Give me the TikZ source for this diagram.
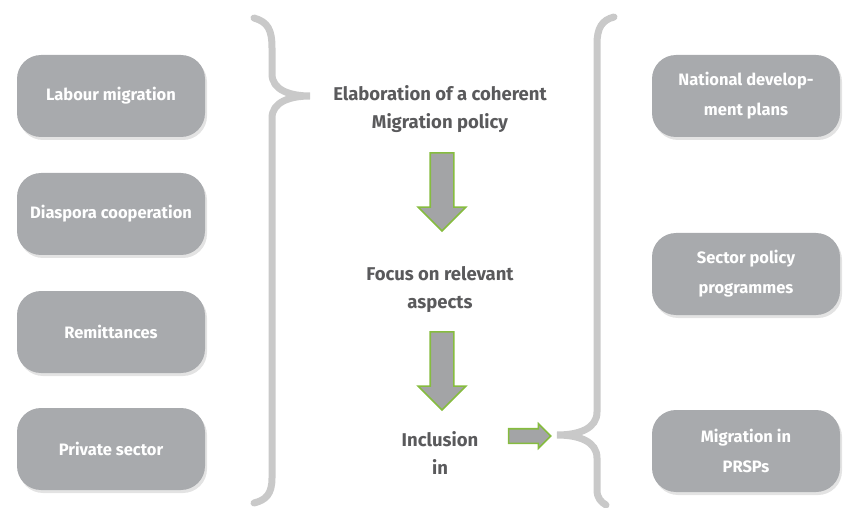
\documentclass[tikz,border=0pt]{standalone}
\usepackage{fontspec}
\setmainfont{Fira Sans}
\usepackage{xcolor}
\usetikzlibrary{shapes,shadows}
\definecolor{boxgray}{HTML}{A8AAAD}
\definecolor{bracegray}{HTML}{C9C9C9}
\definecolor{textgray}{HTML}{5A5A5C}
\definecolor{arrowgreen}{HTML}{86BC3F}
\definecolor{arrowgray}{HTML}{A3A4A6}

\begin{document}
\begin{tikzpicture}[x=1pt,y=-1pt,
  topic/.style={shape=rectangle,rounded corners=24pt,fill=boxgray,text=white,
    minimum width=188pt,minimum height=82pt,align=center,
    font=\fontsize{16.5}{30}\selectfont\bfseries,
    drop shadow={shadow xshift=2pt,shadow yshift=-3pt,opacity=0.22}},
  stage/.style={align=center,text=textgray,font=\fontsize{18.5}{28}\selectfont\bfseries},
  fatarrow/.style={shape=single arrow,fill=arrowgray,draw=arrowgreen,line width=1.6pt,
    inner sep=11pt,single arrow head extend=12pt,minimum height=78pt},
  brace/.style={draw=bracegray,line width=7pt,line cap=round}]
\useasboundingbox (0,0) rectangle (847,508);

\node (labour) at (111,96) [topic] {Labour migration};
\node (diaspora) at (111,214) [topic] {Diaspora cooperation};
\node (remit) at (111,332) [topic] {Remittances};
\node (private) at (111,449) [topic] {Private sector};

\node (national) at (746,96) [topic] {National develop-\\ment plans};
\node (sector) at (746,274) [topic] {Sector policy\\programmes};
\node (prsp) at (746,451) [topic] {Migration in\\PRSPs};

\node (elab) at (440,109) [stage] {Elaboration of a coherent\\Migration policy};
\node (focus) at (440,290) [stage] {Focus on relevant\\aspects};
\node (incl) at (440,453) [stage] {Inclusion\\in};

\node (arra) at (442,186) [fatarrow,shape border rotate=270] {};
\node (arrb) at (442,365) [fatarrow,shape border rotate=270] {};
\node (arrc) at (526,436) [fatarrow,inner sep=6.5pt,single arrow head extend=5pt,minimum height=42pt] {};

% braces
\draw [brace] (254,18) .. controls (268,22) and (272,30) .. (272,48)
  -- (272,74) .. controls (272,90) and (290,96) .. (310,96)
  .. controls (290,96) and (272,102) .. (272,118)
  -- (272,478) .. controls (272,494) and (266,500) .. (254,503);
\draw [brace] (614,17) .. controls (602,20) and (597,28) .. (597,44)
  -- (597,412) .. controls (597,428) and (580,435) .. (557,435)
  .. controls (580,435) and (597,442) .. (597,458)
  -- (597,490) .. controls (597,498) and (601,502) .. (606,505);
\end{tikzpicture}
\end{document}
